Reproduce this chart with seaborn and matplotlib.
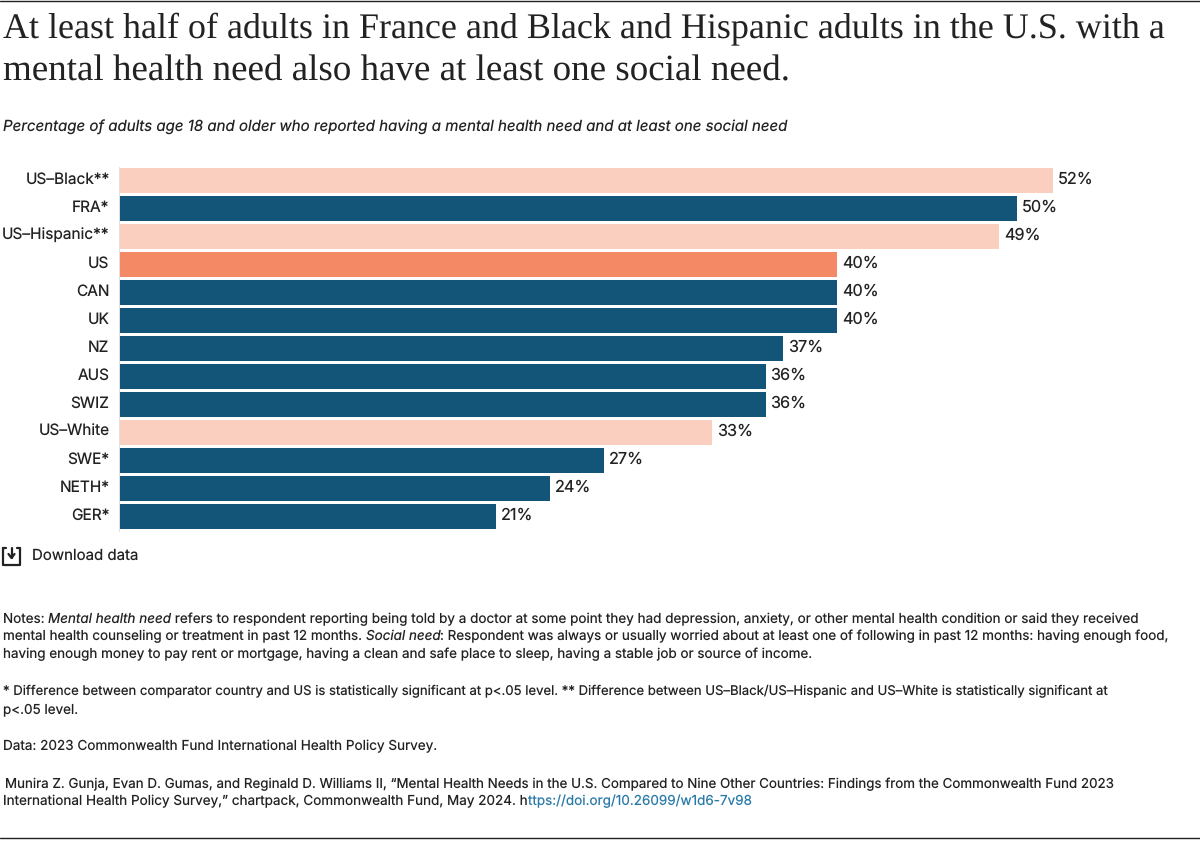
import matplotlib
matplotlib.use("Agg")
import matplotlib.pyplot as plt
from matplotlib.lines import Line2D
from matplotlib.transforms import ScaledTranslation
import pandas as pd
import seaborn as sns

categories = ["US\u2013Black**", "FRA*", "US\u2013Hispanic**", "US", "CAN", "UK", "NZ",
              "AUS", "SWIZ", "US\u2013White", "SWE*", "NETH*", "GER*"]
values = [52, 50, 49, 40, 40, 40, 37, 36, 36, 33, 27, 24, 21]
groups = ["sub", "other", "sub", "us", "other", "other", "other",
          "other", "other", "sub", "other", "other", "other"]
palette = {"other": "#125579", "us": "#F38A65", "sub": "#FACFBF"}

TITLE = ["At least half of adults in France and Black and Hispanic adults in the U.S. with a",
         "mental health need also have at least one social need."]
SUBTITLE = "Percentage of adults age 18 and older who reported having a mental health need and at least one social need"

W, H = 1200, 843
TEXT = "#222222"

sns.set_theme(style="white")
plt.rcParams["font.family"] = ["Inter", "DejaVu Sans"]
plt.rcParams["text.hinting"] = "no_hinting"
plt.rcParams["text.hinting_factor"] = 1

df = pd.DataFrame({"country": categories, "value": values, "group": groups})

fig = plt.figure(figsize=(12, 8.43), dpi=100)
left, right, top, bottom = 119.3, 1200, 166.5, 530.5
ax = fig.add_axes([left / W, 1 - bottom / H, (right - left) / W, (bottom - top) / H])

sns.barplot(data=df, x="value", y="country", hue="group", palette=palette, dodge=False,
            saturation=1, width=0.9, legend=False, linewidth=0, ax=ax)
ax.set_xlim(0, (right - left) / 17.95)
ax.set_ylim(12.5, -0.5)
ax.set_xlabel("")
ax.set_ylabel("")
ax.set_xticks([])
ax.tick_params(axis="y", length=0, pad=7, labelsize=11.1, labelcolor=TEXT)
lift = ScaledTranslation(0, 1 / 100, fig.dpi_scale_trans)
for label in ax.get_yticklabels():
    label.set_va("center")
    label.set_transform(label.get_transform() + lift)
sns.despine(ax=ax, top=True, right=True, bottom=True)
ax.spines["left"].set_color("#e2e2e2")
ax.spines["left"].set_linewidth(0.7)

for i, v in enumerate(values):
    ax.annotate(f"{v}%", (v, i), xytext=(3.7, 0.5), textcoords="offset points",
                va="center", ha="left", fontsize=11.7, color=TEXT)


def put(x, y, s, **kw):
    # x, y in pixels from the top left of the picture
    return fig.text(x / W, 1 - y / H, s, va="baseline", ha="left", **kw)


def put_runs(x, y, runs, size=9.7):
    # runs of text on one baseline, each (string, style, colour)
    renderer = fig.canvas.get_renderer()
    for s, style, color in runs:
        t = put(x, y, s, fontsize=size, style=style, color=color)
        x += t.get_window_extent(renderer).width


for y, line, size in zip([38, 80], TITLE, [25.8, 26.46]):
    put(3, y, line, fontsize=size, family="Liberation Serif", color=TEXT)
put(3, 132, SUBTITLE, fontsize=10.83, style="italic", color=TEXT)

# download icon and label
icon = [([3, 3, 20, 20], [552, 565, 565, 552]), ([3, 6], [548, 548]), ([17, 20], [548, 548]),
        ([3, 3], [548, 552]), ([20, 20], [548, 552]),
        ([11.5, 11.5], [548, 558]), ([8.5, 11.5, 14.5], [554, 558, 554])]
for xs, ys in icon:
    fig.add_artist(Line2D([a / W for a in xs], [1 - b / H for b in ys], color=TEXT, lw=1.6))
put(32, 559.5, "Download data", fontsize=10.8, color=TEXT)

rm = "normal"
put_runs(3, 623, [("Notes: ", rm, TEXT), ("Mental health need", "italic", TEXT),
                  (" refers to respondent reporting being told by a doctor at some point they had depression, anxiety, or other mental health condition or said they received", rm, TEXT)], 9.72)
put_runs(3, 640, [("mental health counseling or treatment in past 12 months. ", rm, TEXT), ("Social need", "italic", TEXT),
                  (": Respondent was always or usually worried about at least one of following in past 12 months: having enough food,", rm, TEXT)])
put_runs(3, 658, [("having enough money to pay rent or mortgage, having a clean and safe place to sleep, having a stable job or source of income.", rm, TEXT)])
put_runs(3, 695, [("* Difference between comparator country and US is statistically significant at p<.05 level. ** Difference between US\u2013Black/US\u2013Hispanic and US\u2013White is statistically significant at", rm, TEXT)], 9.46)
put_runs(3, 713, [("p<.05 level.", rm, TEXT)])
put_runs(3, 750, [("Data: 2023 Commonwealth Fund International Health Policy Survey.", rm, TEXT)], 9.76)
put_runs(5, 788, [("Munira Z. Gunja, Evan D. Gumas, and Reginald D. Williams II, \u201cMental Health Needs in the U.S. Compared to Nine Other Countries: Findings from the Commonwealth Fund 2023", rm, TEXT)], 9.64)
put_runs(3, 805, [("International Health Policy Survey,\u201d chartpack, Commonwealth Fund, May 2024. h", rm, TEXT),
                  ("ttps://doi.org/10.26099/w1d6-7v98", rm, "#2a7aa8")], 9.74)

# rules at the top and bottom of the picture
for y in [0.8, 837.5]:
    fig.add_artist(Line2D([0, 1], [1 - y / H] * 2, color="#222222", lw=1))

fig.savefig("out.png", dpi=100, facecolor="white")
